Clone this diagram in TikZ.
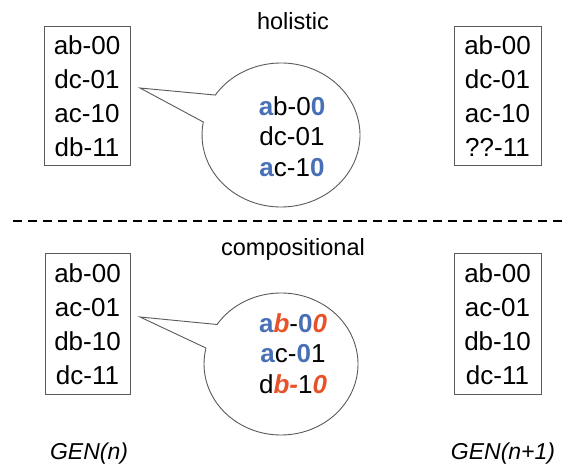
\documentclass[tikz,border=0pt]{standalone}
\usepackage{fontspec}
\setmainfont{Liberation Sans}
\usetikzlibrary{calc}
\definecolor{cblue}{RGB}{72,112,182}
\definecolor{cred}{RGB}{232,82,40}
\definecolor{cline}{RGB}{90,90,90}
\newcommand{\blu}[1]{\textcolor{cblue}{\bfseries #1}}
\newcommand{\redi}[1]{\textcolor{cred}{\bfseries\itshape #1}}
\tikzset{
  listbox/.style={draw=cline, line width=1pt, inner sep=0pt, align=center,
    font=\fontsize{26}{34}\selectfont},
  bubble/.style={draw=cline, line width=0.9pt, fill=white},
  bubtext/.style={inner sep=0pt, align=center, font=\fontsize{26}{30.5}\selectfont},
  heading/.style={anchor=base, inner sep=0pt, font=\fontsize{23.5}{28}\selectfont},
  genlab/.style={anchor=base, inner sep=0pt, font=\fontsize{23}{28}\selectfont\itshape},
  sep/.style={line width=2pt, dash pattern=on 9pt off 6pt}
}
\begin{document}
\begin{tikzpicture}[x=1pt,y=1pt]
\useasboundingbox (0,0) rectangle (568,464);
% headings
\node[heading] (hol) at (293,434) {holistic};
\node[heading] (comp) at (293,208) {compositional};
% boxes
\node[listbox, minimum width=86pt, minimum height=139pt] (tl) at (87,367.5) {ab-00\\dc-01\\ac-10\\db-11};
\node[listbox, minimum width=87pt, minimum height=139pt] (tr) at (497.5,367.5) {ab-00\\dc-01\\ac-10\\??-11};
\node[listbox, minimum width=85pt, minimum height=140pt] (bl) at (87.5,140) {ab-00\\ac-01\\db-10\\dc-11};
\node[listbox, minimum width=87pt, minimum height=140pt] (br) at (497.5,140) {ab-00\\ac-01\\db-10\\dc-11};
% top callout
\coordinate (c1) at (281,329);
\coordinate (tip1) at (140,376);
\draw[bubble] (tip1) -- ($(c1)+(146.3:79pt and 72pt)$)
  arc[start angle=146.3, end angle=-190.4, x radius=79pt, y radius=72pt] -- cycle;
\node[bubtext] (t1) at (292,327.5) {\blu{a}b-0\blu{0}\\dc-01\\\blu{a}c-1\blu{0}};
% bottom callout
\coordinate (c2) at (281,100);
\coordinate (tip2) at (140,147);
\draw[bubble] (tip2) -- ($(c2)+(146.2:77pt and 71pt)$)
  arc[start angle=146.2, end angle=-193, x radius=77pt, y radius=71pt] -- cycle;
\node[bubtext] (t2) at (293,110.5) {\blu{a}\redi{b}-\blu{0}\redi{0}\\\blu{a}c-\blu{0}1\\d\redi{b}\redi{-}1\redi{0}};
% separator
\coordinate (s1) at (13,243);
\coordinate (s2) at (568,243);
\draw[sep] (s1) -- (s2);
% generation labels
\node[genlab] (g1) at (89,5) {GEN(n)};
\node[genlab] (g2) at (503,5) {GEN(n+1)};
\end{tikzpicture}
\end{document}
